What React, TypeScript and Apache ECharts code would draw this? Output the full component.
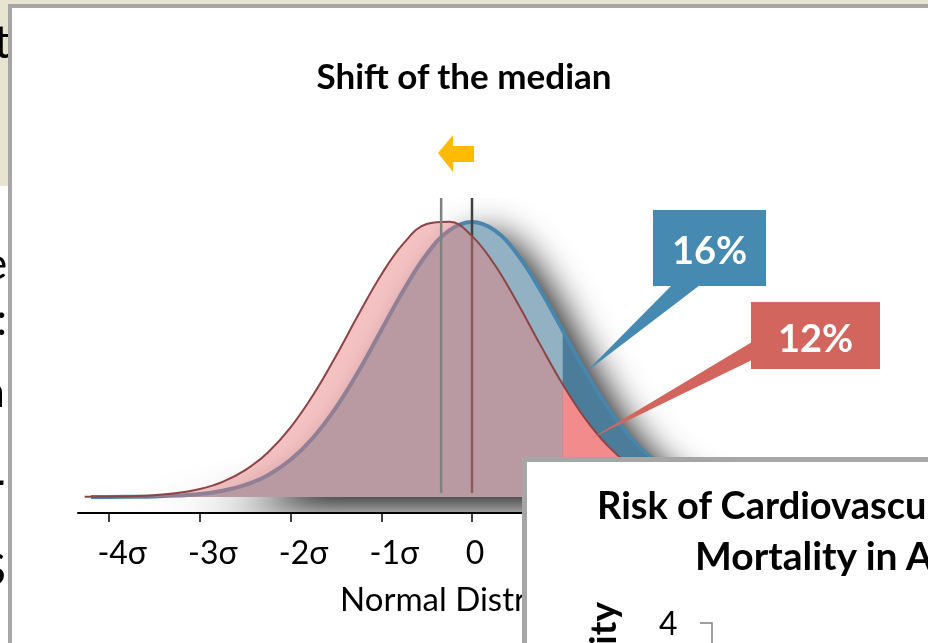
import React, { useEffect, useRef } from "react";
import * as echarts from "echarts";

// ---- data ----
const BLUE_X = [-4.2, -4, -3.75, -3.5, -3.25, -3, -2.75, -2.5, -2.25, -2, -1.75, -1.5, -1.25, -1, -0.75, -0.5, -0.25, 0, 0.25, 0.5, 0.75, 1, 1.25, 1.5, 1.75, 2, 2.25, 2.5, 2.75, 3, 3.25, 3.5, 3.75, 4, 4.2];
const BLUE_Y = [0.0001, 0.0001, 0.0004, 0.0009, 0.002, 0.0044, 0.0091, 0.0175, 0.0317, 0.054, 0.0863, 0.1295, 0.1826, 0.242, 0.3011, 0.3521, 0.3867, 0.3989, 0.3867, 0.3521, 0.3011, 0.242, 0.1826, 0.1295, 0.0863, 0.054, 0.0317, 0.0175, 0.0091, 0.0044, 0.002, 0.0009, 0.0004, 0.0001, 0.0001];
const PINK_X = [-4.27, -4, -3.75, -3.5, -3.25, -3, -2.75, -2.5, -2.25, -2, -1.75, -1.5, -1.25, -1, -0.75, -0.5, -0.25, 0, 0.25, 0.5, 0.75, 1, 1.25, 1.5, 1.75, 2, 2.25, 2.5, 2.75, 3, 3.25, 3.5, 3.75, 4];
const PINK_Y = [0.0002, 0.0005, 0.0012, 0.0027, 0.0058, 0.0116, 0.0219, 0.0389, 0.0647, 0.1011, 0.1483, 0.2046, 0.265, 0.3225, 0.3686, 0.3959, 0.3993, 0.3784, 0.3369, 0.2817, 0.2214, 0.1634, 0.1133, 0.0738, 0.0451, 0.0259, 0.014, 0.0071, 0.0034, 0.0015, 0.0006, 0.0003, 0.0001, 0.0];
const BLUE_MEDIAN = 0;
const PINK_MEDIAN = -0.34;
const MEDIAN_SPAN = [0.0058, 0.4337];
const TAIL_FROM = 1;
const TICK_VALUES = [-4, -3, -2, -1, 0, 1, 2, 3, 4];
const LABEL_VALUES = [-4, -3, -2, -1, 0, 1];
const TICK_LABELS = ["-4σ", "-3σ", "-2σ", "-1σ", "0", "1σ"];
const BLUE_SHARE = "16%";
const PINK_SHARE = "12%";
const TITLE = "Shift of the median";
const AXIS_NAME = "Normal Distribution";
const PANEL2_TITLE = ["Risk of Cardiovascular", "Mortality in Adults"];
const PANEL2_YNAME = "Mortality";
const PANEL2_TICK = "4";

const FONT = "Lato, 'Open Sans', sans-serif";

export default function App() {
  const ref = useRef<HTMLDivElement>(null);
  useEffect(() => {
    if (!ref.current) return;
    const chart = echarts.init(ref.current, undefined, { renderer: "svg" });
    const bluePts = BLUE_X.map((x, i) => [x, BLUE_Y[i]]);
    const pinkPts = PINK_X.map((x, i) => [x, PINK_Y[i]]);
    const blueTail = bluePts.filter((p) => p[0] >= TAIL_FROM);
    const pinkTail = pinkPts.filter((p) => p[0] >= TAIL_FROM);
    const base = { type: "line", symbol: "none", smooth: 0.4, silent: true };
    const hidden = { opacity: 0, width: 0 };

    const txt = (text: string, x: number, y: number, size: number, opts: any = {}) => ({
      type: "text",
      x,
      y,
      z: opts.z ?? 101,
      rotation: opts.rotation ?? 0,
      style: {
        text,
        fill: opts.fill ?? "#000",
        font: `${opts.bold ? "bold " : ""}${size}px ${FONT}`,
        textAlign: opts.align ?? "left",
        textVerticalAlign: "middle",
      },
    });

    chart.setOption({
      animation: false,
      title: {
        text: TITLE,
        left: "center",
        top: 52,
        textStyle: { fontSize: 35, fontWeight: "bold", fontFamily: FONT, color: "#000" },
      },
      grid: { left: 78, right: 62, top: 198, bottom: 130, outerBoundsMode: "none" },
      xAxis: {
        type: "value",
        min: -4.344,
        max: 4.344,
        z: 20,
        axisLine: { onZero: false, lineStyle: { color: "#000", width: 2 } },
        axisTick: { customValues: TICK_VALUES, length: 9, lineStyle: { color: "#000", width: 1.5 } },
        axisLabel: {
          customValues: LABEL_VALUES,
          formatter: (v: number) => {
            const s = TICK_LABELS[LABEL_VALUES.indexOf(Math.round(v))] ?? "";
            return s.length > 1 ? `{n|${s}}` : `{z|${s}}`;
          },
          rich: {
            n: { fontSize: 32, fontFamily: FONT, color: "#000", padding: [0, 0, 0, 26] },
            z: { fontSize: 32, fontFamily: FONT, color: "#000", padding: [0, 0, 0, 6] },
          },
          fontSize: 32,
          fontFamily: FONT,
          color: "#000",
          margin: 22,
        },
        splitLine: { show: false },
      },
      yAxis: { type: "value", min: -0.0232, max: 0.4337, show: false },
      series: [
        {
          ...base, name: "shadow", z: 1, data: bluePts, lineStyle: hidden,
          areaStyle: { color: "#ffffff", opacity: 1, shadowBlur: 36, shadowColor: "rgba(0,0,0,0.9)", shadowOffsetX: 16, shadowOffsetY: 12 },
        },
        { ...base, name: "blueArea", z: 2, data: bluePts, lineStyle: hidden, areaStyle: { color: "rgba(60,118,148,0.56)", opacity: 1 } },
        { ...base, name: "blueTail", z: 3, data: blueTail, lineStyle: hidden, areaStyle: { color: "#4B7D9B", opacity: 1 } },
        { ...base, name: "blueLine", z: 4, data: bluePts, lineStyle: { color: "#4A86AC", width: 4 } },
        { type: "line", symbol: "none", silent: true, name: "blueMedian", z: 5, data: [[BLUE_MEDIAN, MEDIAN_SPAN[0]], [BLUE_MEDIAN, MEDIAN_SPAN[1]]], lineStyle: { color: "#404040", width: 2.5 } },
        { ...base, name: "pinkArea", z: 6, data: pinkPts, lineStyle: hidden, areaStyle: { color: "rgba(233,122,122,0.45)", opacity: 1 } },
        { ...base, name: "pinkTail", z: 7, data: pinkTail, lineStyle: hidden, areaStyle: { color: "#F28C8C", opacity: 1 } },
        { ...base, name: "pinkLine", z: 8, data: pinkPts, lineStyle: { color: "#8B4545", width: 2 } },
        { type: "line", symbol: "none", silent: true, name: "pinkMedian", z: 9, data: [[PINK_MEDIAN, MEDIAN_SPAN[0]], [PINK_MEDIAN, MEDIAN_SPAN[1]]], lineStyle: { color: "#808080", width: 2.5 } },
      ],
      graphic: [
        { type: "rect", z: 0, shape: { x: 0, y: 0, width: 928, height: 643 }, style: { fill: "#ffffff" } },
        { type: "rect", z: 0, shape: { x: 0, y: 0, width: 928, height: 186 }, style: { fill: "#E7E5CF" } },
        txt("t", -6, 40, 46, { z: 0 }),
        txt("e", -16, 262, 44, { z: 0 }),
        txt(":", -4, 318, 44, { z: 0 }),
        txt("a", -17, 390, 44, { z: 0 }),
        txt("4", -22, 475, 46, { z: 0, bold: true }),
        txt("S", -18, 568, 44, { z: 0 }),
        { type: "rect", z: 0, shape: { x: 10, y: 6, width: 1000, height: 1000 }, style: { fill: "#ffffff", stroke: "#A6A6A6", lineWidth: 4 } },
        txt(AXIS_NAME, 340, 598, 33, { z: 30 }),
        // orange arrow
        { type: "polygon", z: 50, shape: { points: [[438, 153], [453, 135], [453, 146], [474, 146], [474, 162], [453, 162], [453, 172]] }, style: { fill: "#FFBB00" } },
        // blue callout
        { type: "polygon", z: 50, shape: { points: [[672, 285], [700, 285], [586, 372]] }, style: { fill: "#468AB2" } },
        { type: "rect", z: 50, shape: { x: 653, y: 210, width: 113, height: 76 }, style: { fill: "#468AB2" } },
        txt(BLUE_SHARE, 709.5, 249, 38, { z: 51, bold: true, fill: "#fff", align: "center" }),
        // red callout
        { type: "polygon", z: 50, shape: { points: [[752, 342], [752, 360], [590, 439]] }, style: { fill: "#D2665E" } },
        { type: "rect", z: 50, shape: { x: 751, y: 302, width: 129, height: 67 }, style: { fill: "#D2665E" } },
        txt(PINK_SHARE, 815.5, 337, 38, { z: 51, bold: true, fill: "#fff", align: "center" }),
        // second panel
        { type: "rect", z: 100, shape: { x: 524.5, y: 459.5, width: 600, height: 400 }, style: { fill: "#ffffff", stroke: "#A6A6A6", lineWidth: 5 } },
        txt(PANEL2_TITLE[0], 597, 504, 38, { bold: true }),
        txt(PANEL2_TITLE[1], 695, 555, 39, { bold: true }),
        txt(PANEL2_YNAME, 601, 602, 37, { bold: true, rotation: Math.PI / 2, align: "right" }),
        txt(PANEL2_TICK, 659, 622, 32),
        { type: "polyline", z: 101, shape: { points: [[700, 623], [712, 623], [712, 660]] }, style: { stroke: "#808080", lineWidth: 1.5, fill: null } },
      ],
    });
    return () => chart.dispose();
  }, []);
  return <div ref={ref} style={{ position: "fixed", left: 0, top: 0, width: 928, height: 643 }} />;
}
